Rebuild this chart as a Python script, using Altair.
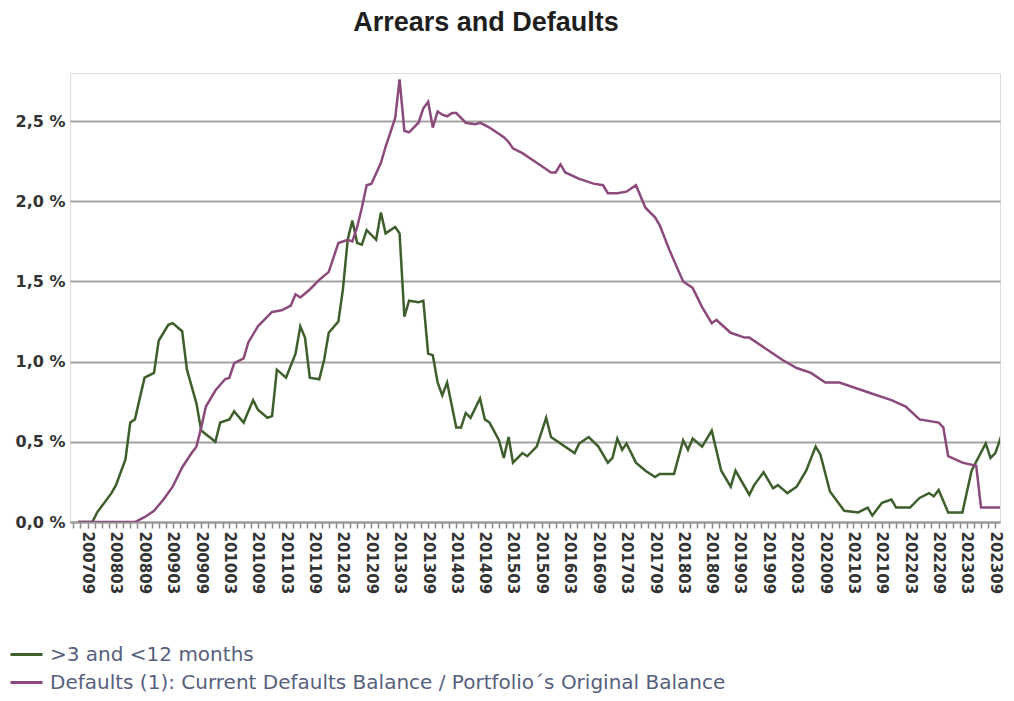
import altair as alt
import pandas as pd

# ---- data (monthly periods, % values) ----
arrears_months = [
    "2007-07", "2007-10", "2007-11", "2008-02", "2008-03", "2008-05", "2008-06", "2008-07",
    "2008-09", "2008-11", "2008-12", "2009-02", "2009-03", "2009-05", "2009-06", "2009-08",
    "2009-09", "2009-12", "2010-01", "2010-03", "2010-04", "2010-06", "2010-08", "2010-09",
    "2010-11", "2010-12", "2011-01", "2011-03", "2011-05", "2011-06", "2011-07", "2011-08",
    "2011-10", "2011-11", "2011-12", "2012-02", "2012-03", "2012-04", "2012-05", "2012-06",
    "2012-07", "2012-08", "2012-10", "2012-11", "2012-12", "2013-02", "2013-03", "2013-04",
    "2013-05", "2013-07", "2013-08", "2013-09", "2013-10", "2013-11", "2013-12", "2014-01",
    "2014-03", "2014-04", "2014-05", "2014-06", "2014-08", "2014-09", "2014-10", "2014-12",
    "2015-01", "2015-02", "2015-03", "2015-05", "2015-06", "2015-08", "2015-10", "2015-11",
    "2016-01", "2016-04", "2016-05", "2016-07", "2016-09", "2016-11", "2016-12", "2017-01",
    "2017-02", "2017-03", "2017-05", "2017-07", "2017-09", "2017-10", "2018-01", "2018-03",
    "2018-04", "2018-05", "2018-07", "2018-09", "2018-11", "2019-01", "2019-02", "2019-05",
    "2019-06", "2019-08", "2019-10", "2019-11", "2020-01", "2020-03", "2020-05", "2020-07",
    "2020-08", "2020-10", "2021-01", "2021-04", "2021-06", "2021-07", "2021-09", "2021-11",
    "2021-12", "2022-03", "2022-05", "2022-07", "2022-08", "2022-09", "2022-11", "2023-02",
    "2023-04", "2023-07", "2023-08", "2023-09", "2023-11",
]
arrears_values = [
    0.00, 0.00, 0.06, 0.18, 0.23, 0.39, 0.62, 0.64,
    0.90, 0.93, 1.13, 1.23, 1.24, 1.19, 0.95, 0.74,
    0.57, 0.50, 0.62, 0.64, 0.69, 0.62, 0.76, 0.70,
    0.65, 0.66, 0.95, 0.90, 1.05, 1.22, 1.15, 0.90,
    0.89, 1.01, 1.18, 1.25, 1.45, 1.76, 1.88, 1.74,
    1.73, 1.82, 1.76, 1.93, 1.80, 1.84, 1.80, 1.28,
    1.38, 1.37, 1.38, 1.05, 1.04, 0.87, 0.79, 0.87,
    0.59, 0.59, 0.68, 0.65, 0.77, 0.64, 0.62, 0.51,
    0.40, 0.53, 0.37, 0.43, 0.41, 0.47, 0.65, 0.53,
    0.49, 0.43, 0.49, 0.53, 0.47, 0.37, 0.40, 0.52,
    0.45, 0.49, 0.37, 0.32, 0.28, 0.30, 0.30, 0.51,
    0.45, 0.52, 0.47, 0.57, 0.32, 0.22, 0.32, 0.17,
    0.23, 0.31, 0.21, 0.23, 0.18, 0.22, 0.32, 0.47,
    0.42, 0.19, 0.07, 0.06, 0.09, 0.04, 0.12, 0.14,
    0.09, 0.09, 0.15, 0.18, 0.16, 0.20, 0.06, 0.06,
    0.32, 0.49, 0.40, 0.43, 0.60,
]

defaults_months = [
    "2007-07", "2008-07", "2008-09", "2008-11", "2009-01", "2009-03", "2009-05", "2009-07",
    "2009-08", "2009-09", "2009-10", "2009-12", "2010-02", "2010-03", "2010-04", "2010-06",
    "2010-07", "2010-09", "2010-12", "2011-02", "2011-04", "2011-05", "2011-06", "2011-08",
    "2011-10", "2011-12", "2012-02", "2012-04", "2012-05", "2012-06", "2012-07", "2012-08",
    "2012-09", "2012-11", "2012-12", "2013-02", "2013-03", "2013-04", "2013-05", "2013-07",
    "2013-08", "2013-09", "2013-10", "2013-11", "2013-12", "2014-01", "2014-02", "2014-03",
    "2014-05", "2014-07", "2014-08", "2014-10", "2015-01", "2015-02", "2015-03", "2015-05",
    "2015-08", "2015-11", "2015-12", "2016-01", "2016-02", "2016-05", "2016-08", "2016-10",
    "2016-11", "2017-01", "2017-03", "2017-05", "2017-07", "2017-09", "2017-10", "2017-12",
    "2018-01", "2018-03", "2018-05", "2018-07", "2018-09", "2018-10", "2019-01", "2019-04",
    "2019-05", "2019-08", "2019-12", "2020-03", "2020-06", "2020-09", "2020-12", "2021-05",
    "2021-07", "2021-11", "2022-02", "2022-05", "2022-09", "2022-10", "2022-11", "2023-02",
    "2023-05", "2023-06", "2023-11",
]
defaults_values = [
    0.00, 0.00, 0.03, 0.07, 0.14, 0.22, 0.34, 0.43,
    0.47, 0.59, 0.72, 0.82, 0.89, 0.90, 0.99, 1.02,
    1.12, 1.22, 1.31, 1.32, 1.35, 1.42, 1.40, 1.45,
    1.51, 1.56, 1.74, 1.76, 1.75, 1.84, 1.96, 2.10,
    2.11, 2.24, 2.34, 2.52, 2.76, 2.44, 2.43, 2.49,
    2.58, 2.62, 2.46, 2.56, 2.54, 2.53, 2.55, 2.55,
    2.49, 2.48, 2.49, 2.46, 2.40, 2.37, 2.33, 2.30,
    2.24, 2.18, 2.18, 2.23, 2.18, 2.14, 2.11, 2.10,
    2.05, 2.05, 2.06, 2.10, 1.96, 1.90, 1.85, 1.70,
    1.63, 1.50, 1.46, 1.34, 1.24, 1.26, 1.18, 1.15,
    1.15, 1.09, 1.01, 0.96, 0.93, 0.87, 0.87, 0.82,
    0.80, 0.76, 0.72, 0.64, 0.62, 0.59, 0.41, 0.37,
    0.35, 0.09, 0.09,
]

series_names = [
    ">3 and <12 months",
    "Defaults (1): Current Defaults Balance / Portfolio´s Original Balance",
]
series_colors = ["#3e5f2c", "#8c4a7c"]
y_ticks = [0.0, 0.5, 1.0, 1.5, 2.0, 2.5]

df = pd.concat([
    pd.DataFrame({"date": [m + "-01" for m in arrears_months],
                  "value": arrears_values, "series": series_names[0]}),
    pd.DataFrame({"date": [m + "-01" for m in defaults_months],
                  "value": defaults_values, "series": series_names[1]}),
], ignore_index=True)

# x-axis tick marks: every 1.5 months, labels every 6 months (March / September)
tick_values = []
base = pd.Timestamp("2007-06-01")
end = pd.Timestamp("2023-10-01")
for k in range(0, 140):
    ts = base + pd.DateOffset(months=(k // 2) * 3)
    if k % 2 == 1:
        ts = ts + pd.DateOffset(months=1, days=15)
    if ts <= end:
        tick_values.append(int(ts.value // 10**6))

x_domain = [
    alt.DateTime(year=2007, month=5, date=10, utc=True),
    alt.DateTime(year=2023, month=10, date=1, utc=True),
]

chart = alt.Chart(df).mark_line(strokeWidth=2.5, clip=True).encode(
    x=alt.X(
        "date:T",
        scale=alt.Scale(type="utc", domain=x_domain),
        axis=alt.Axis(
            title=None,
            values=tick_values,
            labelExpr="utcdate(datum.value) == 1 && (utcmonth(datum.value) == 2 || utcmonth(datum.value) == 8) ? utcFormat(datum.value, '%Y%m') : ''",
            labelAngle=90,
            labelAlign="left",
            labelBaseline="middle",
            labelOverlap=False,
            labelFlush=False,
            labelFont="DejaVu Sans",
            labelFontWeight="bold",
            labelFontSize=15,
            labelColor="#333333",
            labelPadding=3,
            grid=False,
            domain=True,
            domainColor="#9a9a9a",
            domainWidth=2,
            ticks=True,
            tickColor="#8a8a8a",
            tickWidth=1.5,
            tickSize=6,
        ),
    ),
    y=alt.Y(
        "value:Q",
        scale=alt.Scale(domain=[0, 2.8], nice=False),
        axis=alt.Axis(
            title=None,
            values=y_ticks,
            labelExpr="replace(format(datum.value, '.1f'), '.', ',') + ' %'",
            labelFont="DejaVu Sans",
            labelFontWeight="bold",
            labelFontSize=16,
            labelColor="#333333",
            labelPadding=5,
            grid=True,
            gridColor="#a3a3a3",
            gridWidth=2,
            domain=False,
            ticks=False,
        ),
    ),
    color=alt.Color(
        "series:N",
        scale=alt.Scale(domain=series_names, range=series_colors),
        sort=series_names,
        legend=alt.Legend(
            title=None,
            orient="none",
            legendX=-61,
            legendY=564,
            direction="vertical",
            symbolType="stroke",
            symbolSize=1024,
            symbolStrokeWidth=3,
            labelFont="DejaVu Sans",
            labelFontSize=20,
            labelColor="#56607c",
            labelOffset=6,
            rowPadding=-8,
            padding=0,
            labelLimit=960,
        ),
    ),
).properties(
    width=930,
    height=449,
    padding={"left": 62, "top": 65, "right": 6, "bottom": 171},
    autosize=alt.AutoSizeParams(type="none"),
    title=alt.TitleParams(
        "Arrears and Defaults",
        font="Liberation Sans",
        fontSize=27,
        fontWeight="bold",
        color="#1e1e1e",
        anchor="middle",
        frame="group",
        dx=-49,
        offset=36,
    ),
).configure_view(stroke=None).configure(background="white")

chart.save("out.html", embed_options={"renderer": "svg", "actions": False})
